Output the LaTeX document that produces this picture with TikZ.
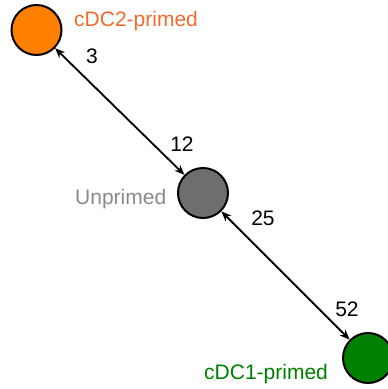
\documentclass[tikz,border=0pt]{standalone}
\usepackage{fontspec}
\setmainfont{Liberation Sans}
\usetikzlibrary{arrows.meta}
\definecolor{dctwo}{HTML}{FF8000}
\definecolor{dctwotext}{HTML}{F26B2E}
\definecolor{unpr}{HTML}{6E6E6E}
\definecolor{unprtext}{HTML}{8A8A8A}
\definecolor{dcone}{HTML}{008000}
\begin{document}
\begin{tikzpicture}[x=1pt,y=-1pt]
    \tikzstyle{popdot}=[circle,draw=black,line width=2pt,minimum size=50pt,inner sep=0pt]
    \tikzstyle{poplabel}=[inner sep=0pt,anchor=base west,font=\fontsize{21}{25}\selectfont]
    \tikzstyle{numlabel}=[inner sep=0pt,font=\fontsize{21}{25}\selectfont]
    \tikzstyle{poplink}=[{Stealth[length=10pt,width=8pt]}-{Stealth[length=10pt,width=8pt]},line width=1.8pt]
    \useasboundingbox (0,0) rectangle (388,389);
    \node[popdot,fill=dctwo] (cdctwo) at (36.5,30) {};
    \node[popdot,fill=unpr] (unprimed) at (203,193) {};
    \node[popdot,fill=dcone] (cdcone) at (368,358) {};
    \node[poplabel,text=dctwotext] (cdctwolbl) at (74,26) {cDC2-primed};
    \node[poplabel,text=unprtext] (unprimedlbl) at (75,204) {Unprimed};
    \node[poplabel,text=dcone] (cdconelbl) at (204,379) {cDC1-primed};
    \draw[poplink] (cdctwo) -- (unprimed);
    \draw[poplink] (unprimed) -- (cdcone);
    \node[numlabel] (ntwo) at (92,56) {3};
    \node[numlabel] (nuptop) at (182,144) {12};
    \node[numlabel] (nupbot) at (263,218) {25};
    \node[numlabel] (none) at (347,309) {52};
\end{tikzpicture}
\end{document}
